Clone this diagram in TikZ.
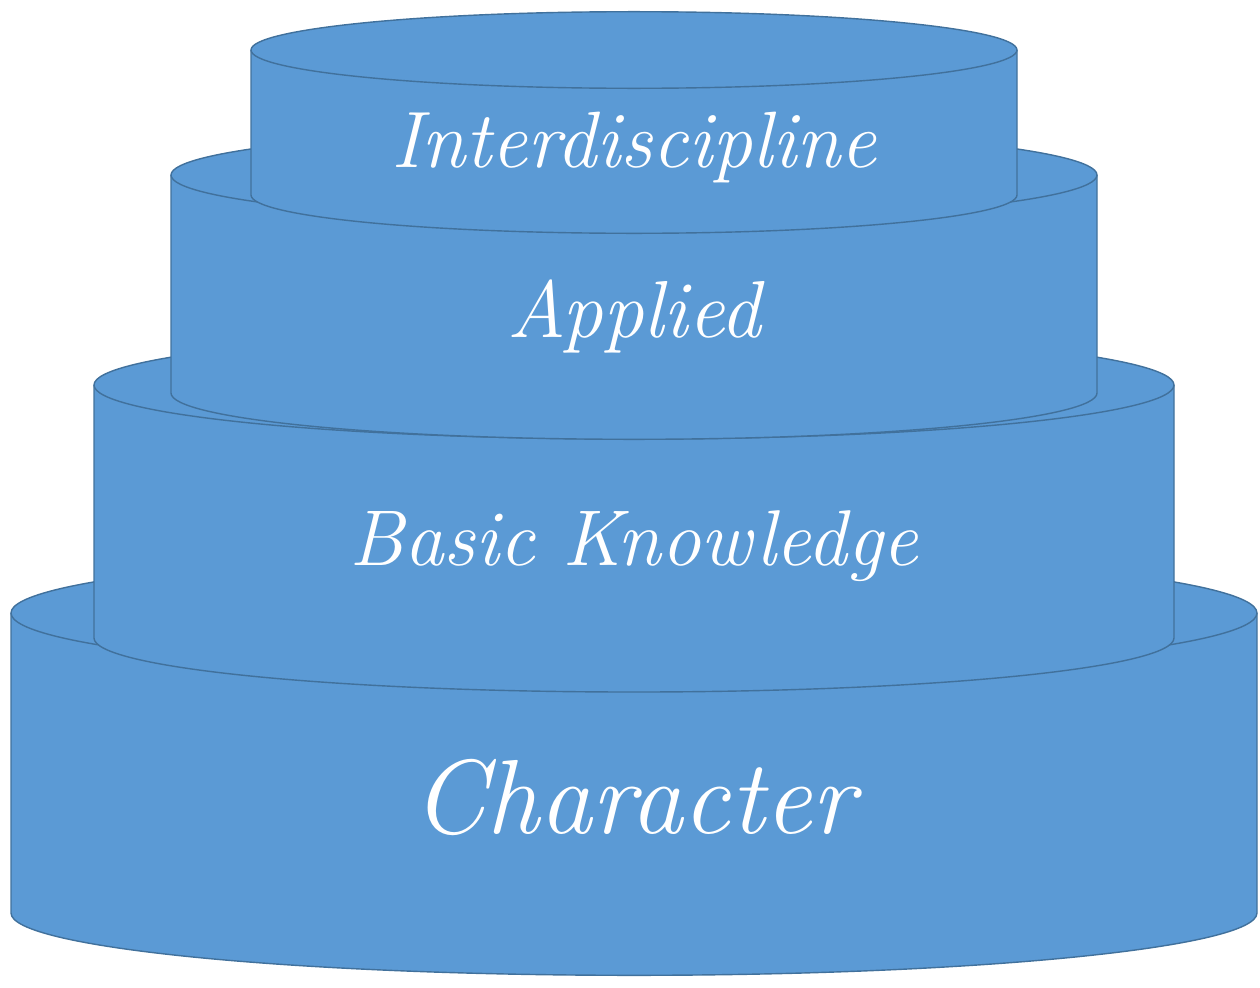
\documentclass[tikz,border=0pt]{standalone}
\usepackage{fontspec}
\definecolor{tierblue}{HTML}{5B9AD5}
\definecolor{tieredge}{HTML}{41719C}
\begin{document}
\begin{tikzpicture}
[   x=0.02cm, y=0.02cm,
    tier/.style={fill=tierblue,draw=tieredge,line width=0.8pt},
    rim/.style={draw=tieredge,line width=0.8pt},
    lbl/.style={text=white,anchor=base,inner sep=0pt,font=\itshape\fontsize{#1}{#1}\selectfont},
]
    \useasboundingbox (0,0) rectangle (1260,-987);
    % tiers, bottom one first
    \foreach \hw/\yt/\yb in {623/-613/-913, 540/-385/-638, 463/-175/-393, 383/-50/-195}
    {   \pgfmathsetmacro\hh{0.1*\hw}
        \draw[tier] (634-\hw,\yt) -- (634-\hw,\yb)
            arc[start angle=180,end angle=360,x radius=\hw,y radius=\hh]
            -- (634+\hw,\yt)
            arc[start angle=0,end angle=180,x radius=\hw,y radius=\hh] -- cycle;
        \draw[rim] (634-\hw,\yt) arc[start angle=180,end angle=360,x radius=\hw,y radius=\hh];
    }
    \node[lbl=45.5] (inter) at (634,-167) {Interdiscipline};
    \node[lbl=46] (applied) at (634,-337) {Applied};
    \node[lbl=45] (basic) at (634,-565) {Basic Knowledge};
    \node[lbl=60] (charac) at (634,-833) {Character};
\end{tikzpicture}
\end{document}
